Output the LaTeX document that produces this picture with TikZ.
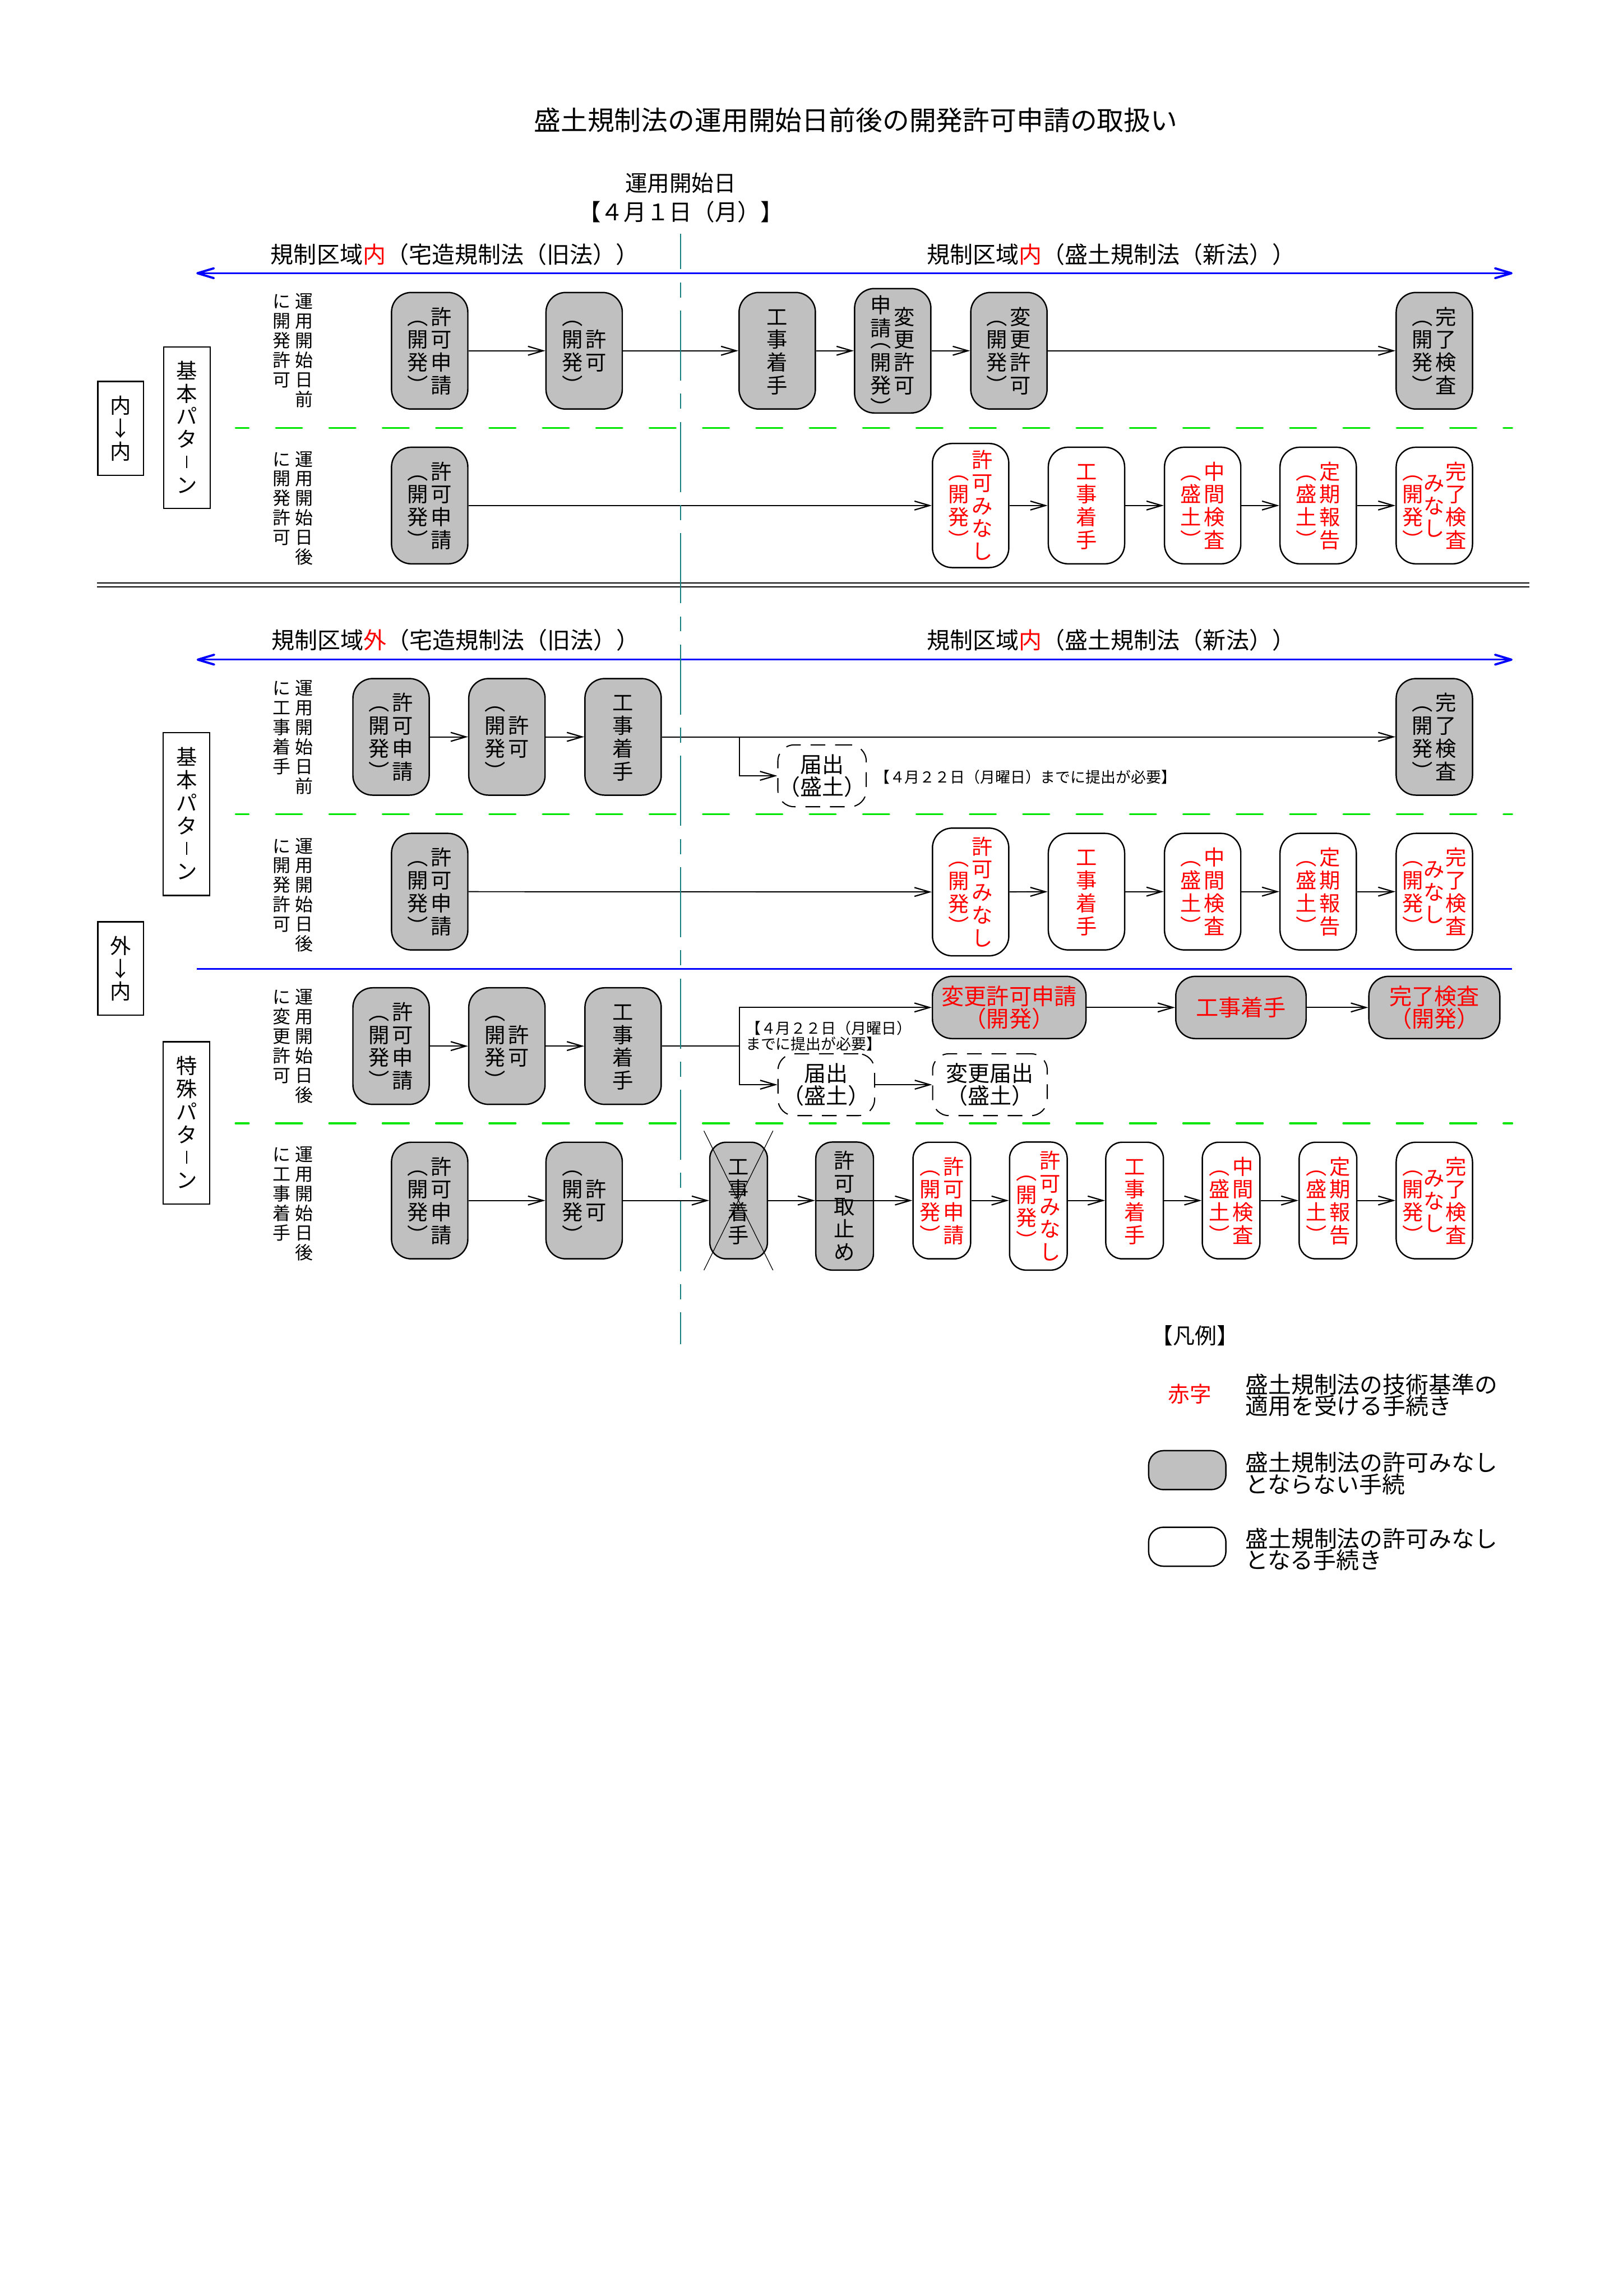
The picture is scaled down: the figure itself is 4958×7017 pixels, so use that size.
\documentclass[tikz,border=0pt]{standalone}
\usepackage{fontspec}
\setmainfont{Noto Sans CJK JP}
\usetikzlibrary{arrows.meta}
\definecolor{gfill}{RGB}{192,192,192}
\definecolor{tealc}{RGB}{22,128,128}
\definecolor{greenc}{RGB}{0,230,0}
\lineskiplimit=-1000pt
\makeatletter
\newlength\tgap
\def\tc@end{\tc@end}
\def\tc@loop#1{\ifx#1\tc@end\else\tc@one#1\expandafter\tc@loop\fi}
\def\tc@one#1{\ifx#1︵\tc@open\else\ifx#1︶\tc@close\else\ifx#1ー\tc@bar\else\tc@char#1\fi\fi\fi}
\def\tc@char#1{\hbox to 1em{\hss\vrule height .93em depth .16em width 0pt\raisebox{0pt}[0pt][0pt]{#1}\hss}}
\def\tc@open{\hbox to 1em{\hss\vrule height .385em depth .16em width 0pt\raisebox{0pt}[0pt][0pt]{︵}\hss}}
\def\tc@close{\hbox to 1em{\hss\vrule height .385em depth .16em width 0pt\raisebox{-.545em}[0pt][0pt]{︶}\hss}}
\def\tc@bar{\hbox to 1em{\hss\vrule height .93em depth .16em width 0pt\vrule height .68em depth -.08em width .05em\hss}}
\def\tcolC#1{$\vcenter{\offinterlineskip\tc@loop#1\tc@end}$}
\def\tcolT#1{\vtop{\offinterlineskip\tc@loop#1\tc@end}}
\makeatother
\newcommand\tateI[1]{\hbox{\tcolC{#1}}}
\newcommand\tateII[2]{\hbox{\tcolC{#1}\hskip\tgap\tcolC{#2}}}
\newcommand\tateIII[3]{\hbox{\tcolC{#1}\hskip\tgap\tcolC{#2}\hskip\tgap\tcolC{#3}}}
\newcommand\tateTII[2]{\hbox{\tcolT{#1}\hskip\tgap\tcolT{#2}}}
\newcommand\bfont{\fontsize{18.2pt}{18.2pt}\selectfont\tgap=.125em\relax}
\newcommand\tfont{\fontsize{18.2pt}{18.2pt}\selectfont\tgap=.03em\relax}
\newcommand\lfont{\fontsize{15.6pt}{15.6pt}\selectfont\tgap=.27em\relax}
\newcommand\hfont{\fontsize{19.6pt}{19.3pt}\selectfont}
\newcommand\dfont{\fontsize{19pt}{19.6pt}\selectfont}
\newcommand\nfont{\fontsize{13.1pt}{13.3pt}\selectfont}
\newcommand\secfont{\fontsize{20pt}{20pt}\selectfont}
\newcommand\legfont{\fontsize{19.9pt}{18.8pt}\selectfont}
\tikzset{
  gbox/.style={draw, line width=1.2pt, fill=gfill, rounded corners=0.6cm, minimum width=2.33cm, minimum height=3.56cm, inner sep=0pt, font=\bfont},
  wbox/.style={gbox, fill=white, text=red},
  nbox/.style={minimum width=1.76cm, rounded corners=0.5cm},
  hbox/.style={gbox, text=red, align=center, font=\hfont, minimum height=1.90cm},
  dbox/.style={draw, line width=1pt, dash pattern=on 0.45cm off 0.3cm, rounded corners=0.5cm, inner sep=0pt, align=center, font=\dfont, minimum height=1.89cm},
  conn/.style={line width=0.95pt, -{Straight Barb[length=0.46cm,width=0.27cm,line width=1.1pt]}},
  plain/.style={line width=0.95pt},
  lbox/.style={draw, line width=1.1pt, inner sep=0pt, font=\bfont},
  rowlab/.style={anchor=north, inner sep=0pt, font=\lfont},
  bluearrow/.style={blue, line width=1.5pt, {Straight Barb[length=0.5cm,width=0.3cm,line width=1.9pt,round]}-{Straight Barb[length=0.5cm,width=0.3cm,line width=1.9pt,round]}},
  greendash/.style={greenc, line width=1.7pt, line cap=round, dash pattern=on 0.8cm off 0.83cm, dash phase=0.4cm},
}
\begin{document}
\begin{tikzpicture}[x=0.01cm, y=-0.01cm]
\path[use as bounding box, fill=white] (0,0) rectangle (4958,7017);

% header
\node[font=\fontsize{23.3pt}{23.3pt}\selectfont] (title) at (2615,367) {盛土規制法の運用開始日前後の開発許可申請の取扱い};
\node[font=\fontsize{19.3pt}{19.3pt}\selectfont] (day1) at (2080,560) {運用開始日};
\node[font=\fontsize{19.8pt}{19.8pt}\selectfont] (day2) at (2080,648) {【４月１日（月）】};

% section 1 labels and arrow
\node[font=\secfont] (s1l) at (1390,778) {規制区域\textcolor{red}{内}（宅造規制法（旧法））};
\node[font=\secfont] (s1r) at (3395,778) {規制区域\textcolor{red}{内}（盛土規制法（新法））};
\coordinate (bA1) at (600,835); \coordinate (bB1) at (4622,835);
\draw[bluearrow] (bA1) -- (bB1);

\node[lbox, minimum width=1.40cm, minimum height=2.86cm] (k1) at (369,1309) {\tateI{内↓内}};
\node[lbox, minimum width=1.42cm, minimum height=4.94cm] (k2) at (571,1307) {\tateI{基本パターン}};

% row 1
\node[rowlab] (l1) at (895,890) {\tateTII{に開発許可}{運用開始日前}};
\node[gbox] (a1) at (1313,1072) {\tateII{︵開発︶}{許可申請}};
\node[gbox] (a2) at (1785,1072) {\tateII{︵開発︶}{許可}};
\node[gbox] (a3) at (2375,1072) {\tateI{工事着手}};
\node[gbox, minimum height=3.80cm] (a4) at (2728,1072) {\tateII{申請︵開発︶}{変更許可}};
\node[gbox] (a5) at (3083,1072) {\tateII{︵開発︶}{変更許可}};
\node[gbox] (a6) at (4383,1072) {\tateII{︵開発︶}{完了検査}};
\draw[conn] (a1) -- (a2);
\draw[conn] (a2) -- (a3);
\draw[conn] (a3) -- (a4);
\draw[conn] (a4) -- (a5);
\draw[conn] (a5) -- (a6);

\coordinate (gA1) at (720,1308); \coordinate (gB1) at (4621,1308);
\draw[greendash] (gA1) -- (gB1);

% row 2
\node[rowlab] (l2) at (895,1372) {\tateTII{に開発許可}{運用開始日後}};
\node[gbox] (b1) at (1313,1545) {\tateII{︵開発︶}{許可申請}};
\node[wbox, minimum height=3.79cm] (b2) at (2966,1545) {\tateII{︵開発︶}{許可みなし}};
\node[wbox] (b3) at (3320,1545) {\tateI{工事着手}};
\node[wbox] (b4) at (3675,1545) {\tateII{︵盛土︶}{中間検査}};
\node[wbox] (b5) at (4028,1545) {\tateII{︵盛土︶}{定期報告}};
\node[wbox, font=\tfont] (b6) at (4383,1545) {\tateIII{︵開発︶}{みなし}{完了検査}};
\draw[conn] (b1) -- (b2);
\draw[conn] (b2) -- (b3);
\draw[conn] (b3) -- (b4);
\draw[conn] (b4) -- (b5);
\draw[conn] (b5) -- (b6);

% separator
\coordinate (dA) at (296,1781); \coordinate (dB) at (4674,1781);
\coordinate (dC) at (296,1793); \coordinate (dD) at (4674,1793);
\draw[line width=1.1pt] (dA) -- (dB);
\draw[line width=1.1pt] (dC) -- (dD);

% section 2 labels and arrow
\node[font=\secfont] (s2l) at (1392,1957) {規制区域\textcolor{red}{外}（宅造規制法（旧法））};
\node[font=\secfont] (s2r) at (3395,1957) {規制区域\textcolor{red}{内}（盛土規制法（新法））};
\coordinate (bA2) at (601,2016); \coordinate (bB2) at (4622,2016);
\draw[bluearrow] (bA2) -- (bB2);

\node[lbox, minimum width=1.42cm, minimum height=4.97cm] (k4) at (570,2488) {\tateI{基本パターン}};
\node[lbox, minimum width=1.40cm, minimum height=2.85cm] (k3) at (369,2960) {\tateI{外↓内}};

% row 3
\node[rowlab] (l3) at (895,2072) {\tateTII{に工事着手}{運用開始日前}};
\node[gbox] (c1) at (1195,2252) {\tateII{︵開発︶}{許可申請}};
\node[gbox] (c2) at (1549,2252) {\tateII{︵開発︶}{許可}};
\node[gbox] (c3) at (1904,2252) {\tateI{工事着手}};
\node[gbox] (c4) at (4383,2252) {\tateII{︵開発︶}{完了検査}};
\node[dbox, minimum width=2.70cm] (c5) at (2512,2371) {届出\\（盛土）};
\node[anchor=west, inner sep=0pt, font=\nfont] (n1) at (2672,2374) {【４月２２日（月曜日）までに提出が必要】};
\coordinate (j3) at (2259,2252);
\draw[conn] (c1) -- (c2);
\draw[conn] (c2) -- (c3);
\draw[conn] (c3) -- (c4);
\draw[conn] (j3) |- (c5.west);

\coordinate (gA2) at (720,2488); \coordinate (gB2) at (4621,2488);
\draw[greendash] (gA2) -- (gB2);

% row 4
\node[rowlab] (l4) at (895,2554) {\tateTII{に開発許可}{運用開始日後}};
\node[gbox] (d1) at (1313,2725) {\tateII{︵開発︶}{許可申請}};
\node[wbox, minimum height=3.90cm] (d2) at (2966,2726) {\tateII{︵開発︶}{許可みなし}};
\node[wbox] (d3) at (3320,2725) {\tateI{工事着手}};
\node[wbox] (d4) at (3675,2725) {\tateII{︵盛土︶}{中間検査}};
\node[wbox] (d5) at (4028,2725) {\tateII{︵盛土︶}{定期報告}};
\node[wbox, font=\tfont] (d6) at (4383,2725) {\tateIII{︵開発︶}{みなし}{完了検査}};
\draw[conn] (d1) -- (d2);
\draw[conn] (d2) -- (d3);
\draw[conn] (d3) -- (d4);
\draw[conn] (d4) -- (d5);
\draw[conn] (d5) -- (d6);

\coordinate (bA3) at (601,2961); \coordinate (bB3) at (4621,2961);
\draw[blue, line width=1.5pt] (bA3) -- (bB3);

% special pattern
\node[lbox, minimum width=1.42cm, minimum height=4.96cm] (k5) at (570,3432) {\tateI{特殊パターン}};

% row 5
\node[rowlab] (l5) at (895,3016) {\tateTII{に変更許可}{運用開始日後}};
\node[gbox] (e1) at (1195,3197) {\tateII{︵開発︶}{許可申請}};
\node[gbox] (e2) at (1549,3197) {\tateII{︵開発︶}{許可}};
\node[gbox] (e3) at (1904,3197) {\tateI{工事着手}};
\node[hbox, minimum width=4.69cm] (e4) at (3084,3079) {変更許可申請\\（開発）};
\node[hbox, minimum width=3.98cm] (e5) at (3792,3079) {工事着手};
\node[hbox, minimum width=4.00cm] (e6) at (4383,3079) {完了検査\\（開発）};
\node[dbox, minimum width=2.95cm] (e7) at (2525,3315) {届出\\（盛土）};
\node[dbox, minimum width=3.50cm] (e8) at (3025,3315) {変更届出\\（盛土）};
\node[anchor=west, align=left, inner sep=0pt, font=\nfont] (n2) at (2278,3166) {【４月２２日（月曜日）\\までに提出が必要】};
\coordinate (j5) at (2259,3197);
\draw[conn] (e1) -- (e2);
\draw[conn] (e2) -- (e3);
\draw[plain] (e3) -- (j5);
\draw[conn] (j5) |- (e4.west);
\draw[conn] (j5) |- (e7.west);
\draw[conn] (e4) -- (e5);
\draw[conn] (e5) -- (e6);
\draw[conn] (e7) -- (e8);

\coordinate (gA3) at (720,3433); \coordinate (gB3) at (4621,3433);
\draw[greendash] (gA3) -- (gB3);

% row 6
\node[rowlab] (l6) at (895,3497) {\tateTII{に工事着手}{運用開始日後}};
\node[gbox] (f1) at (1313,3669) {\tateII{︵開発︶}{許可申請}};
\node[gbox] (f2) at (1785,3669) {\tateII{︵開発︶}{許可}};
\node[gbox, nbox] (f3) at (2257,3669) {\tateI{工事着手}};
\node[gbox, nbox, minimum height=3.91cm] (f4) at (2581,3686) {\tateI{許可取止め}};
\node[wbox, nbox] (f5) at (2878,3669) {\tateII{︵開発︶}{許可申請}};
\node[wbox, nbox, minimum height=3.91cm] (f6) at (3173,3686) {\tateII{︵開発︶}{許可みなし}};
\node[wbox, nbox] (f7) at (3467,3669) {\tateI{工事着手}};
\node[wbox, nbox] (f8) at (3762,3669) {\tateII{︵盛土︶}{中間検査}};
\node[wbox, nbox] (f9) at (4058,3669) {\tateII{︵盛土︶}{定期報告}};
\node[wbox, font=\tfont] (f10) at (4383,3669) {\tateIII{︵開発︶}{みなし}{完了検査}};
\coordinate (x1) at (2151,3456); \coordinate (x2) at (2362,3882);
\coordinate (x3) at (2362,3456); \coordinate (x4) at (2151,3882);
\draw[line width=0.6pt] (x1) -- (x2);
\draw[line width=0.6pt] (x3) -- (x4);
\draw[conn] (f1) -- (f2);
\draw[conn] (f2) -- (f3);
\draw[conn] (f3.east) -- (f3.east -| f4.west);
\draw[conn] (f4.west |- f3.east) -- (f3.east -| f5.west);
\draw[conn] (f5.east) -- (f5.east -| f6.west);
\draw[conn] (f6.east |- f5.east) -- (f7.west);
\draw[conn] (f7) -- (f8);
\draw[conn] (f8) -- (f9);
\draw[conn] (f9) -- (f10);

% timeline
\coordinate (vt) at (2080,715); \coordinate (vb) at (2080,4108);
\draw[tealc, line width=1.1pt, dash pattern=on 2.14cm off 0.4cm on 0.46cm off 0.4cm, dash phase=1.06cm] (vt) -- (vb);

% legend
\node[font=\fontsize{19pt}{19pt}\selectfont] (leg) at (3652,4082) {【凡例】};
\node[font=\fontsize{18.8pt}{18.8pt}\selectfont, text=red] (lr) at (3636,4260) {赤字};
\node[anchor=west, align=left, inner sep=0pt, font=\legfont] (lt1) at (3805,4264) {盛土規制法の技術基準の\\適用を受ける手続き};
\node[draw, line width=1.2pt, fill=gfill, rounded corners=0.45cm, minimum width=2.36cm, minimum height=1.19cm] (lg) at (3628,4493) {};
\node[anchor=west, align=left, inner sep=0pt, font=\legfont] (lt2) at (3805,4503) {盛土規制法の許可みなし\\とならない手続};
\node[draw, line width=1.2pt, fill=white, rounded corners=0.45cm, minimum width=2.36cm, minimum height=1.19cm] (lw) at (3628,4727) {};
\node[anchor=west, align=left, inner sep=0pt, font=\legfont] (lt3) at (3805,4735) {盛土規制法の許可みなし\\となる手続き};
\end{tikzpicture}
\end{document}
